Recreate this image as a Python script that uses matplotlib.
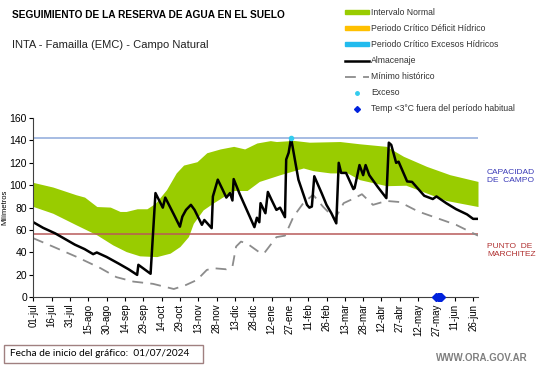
import numpy as np
import matplotlib
matplotlib.use("Agg")
import matplotlib.pyplot as plt
from matplotlib.lines import Line2D
from matplotlib.patches import Patch, Rectangle

plt.rcParams['font.family'] = ['Liberation Sans', 'DejaVu Sans']

# days counted from 01/07/2024
tick_labels = ['01-jul', '16-jul', '31-jul', '15-ago', '30-ago', '14-sep', '29-sep',
               '14-oct', '29-oct', '13-nov', '28-nov', '13-dic', '28-dic', '12-ene',
               '27-ene', '11-feb', '26-feb', '13-mar', '28-mar', '12-abr', '27-abr',
               '12-may', '27-may', '11-jun', '26-jun']

# Almacenaje (stored water, mm)
alm_day = [0, 8, 18, 26, 34, 42, 49, 52, 60, 70, 78, 85, 86, 96, 100, 106, 108, 115,
           120, 122, 125, 129, 132, 138, 140, 146, 147, 151, 155, 158, 161, 163, 164,
           169, 181, 183, 185, 186, 190, 192, 195, 199, 202, 206, 207, 209, 211, 217,
           224, 226, 228, 230, 236, 240, 244, 248, 250, 252, 256, 262, 263, 267, 270,
           272, 275, 282, 289, 291, 293, 297, 299, 306, 310, 320, 327, 330, 338, 346,
           355, 360, 363]
alm_val = [67, 62, 57, 52, 47, 43, 38.5, 40, 36, 30, 25, 20, 29, 21, 93, 80, 89, 74,
           63, 72, 78, 82.5, 78, 64.7, 69, 61.7, 90, 105, 96, 89, 93, 86.4, 105.5,
           92, 62.6, 71, 67, 84, 75, 94, 87, 78, 80, 71.5, 123, 129, 142, 105,
           82.5, 80, 81, 108, 93, 82.5, 75, 66, 120, 111, 111, 96.6, 97.5, 118, 109,
           118, 109, 98.4, 88.5, 138, 136, 120, 121, 103.4, 103, 90.6, 87.7, 90, 84, 78.7,
           74, 70, 70]

# Intervalo normal (upper / lower)
up_day = [0, 16, 35, 42, 52, 63, 71, 76, 85, 93, 100, 109, 117, 123, 134, 142, 153,
          164, 173, 183, 194, 199, 213, 226, 251, 267, 289, 303, 322, 341, 364]
up_val = [102.5, 98.4, 91.5, 89.4, 81, 80.5, 76.6, 76.6, 79, 79, 84, 96, 111, 118,
          121, 129, 132.4, 134.7, 132.4, 137.7, 139.8, 139, 140, 138.4, 139, 137, 134.7,
          125.8, 116.8, 109.4, 103.4]
lo_day = [0, 16, 35, 52, 65, 76, 87, 101, 112, 120, 127, 131, 139, 147, 158, 164,
          175, 185, 202, 207, 221, 229, 243, 257, 267, 289, 305, 322, 338, 364]
lo_val = [81, 75, 64.7, 55.7, 46.8, 40.8, 37, 36.3, 39.4, 45.3, 54.2, 66, 78, 84,
          91.5, 95.3, 95.3, 103.4, 109.4, 111, 115.4, 113, 111, 111, 105, 99.6, 100,
          93, 86.4, 81]

# Minimo historico
min_day = [0, 16, 35, 55, 68, 82, 98, 115, 125, 134, 142, 147, 158, 163, 166, 170,
           175, 186, 189, 199, 206, 213, 221, 229, 237, 247, 254, 262, 269, 278, 289,
           300, 315, 327, 346, 364]
min_val = [52.7, 45.3, 36.3, 26, 18, 14, 12, 7.4, 11, 15.5, 24.4, 26, 25, 27.4,
           45.3, 49.7, 48, 39.4, 39.4, 53.7, 55, 72, 84, 91.5, 81, 70, 84, 88, 92,
           82.5, 86, 85, 76.6, 72, 64.7, 55]

capacidad = 142
marchitez = 56.5
exceso_day = [211]
exceso_val = [142]
helada_day = [330, 331, 332, 333, 334]

fig = plt.figure(figsize=(5.41, 3.68), dpi=100)
ax = fig.add_axes([33.3 / 541, 1 - 297.3 / 368, (478 - 33.3) / 541, (297.3 - 118) / 368])

grid = np.arange(0, 365)
upper = np.interp(grid, up_day, up_val)
lower = np.interp(grid, lo_day, lo_val)
ax.fill_between(grid, lower, upper, color='#99cc00', linewidth=0)

ax.axhline(capacidad, color='#8eaadb', lw=1.1)
ax.axhline(marchitez, color='#b85a5a', lw=1.1)

ax.plot(min_day, min_val, color='#8c8c8c', lw=1.3, dashes=(6, 4))
ax.plot(alm_day, alm_val, color='black', lw=1.8)
ax.plot(exceso_day, exceso_val, 'o', color='#33ccee', ms=3, zorder=5)
ax.plot(helada_day, [0] * len(helada_day), 'D', color='#0022dd', ms=4.5,
        clip_on=False, zorder=6)

ax.set_xlim(0, 364)
ax.set_ylim(0, 160)
ax.set_xticks(np.arange(0, 361, 15))
ax.set_xticklabels(tick_labels, rotation=90, fontsize=7)
ax.set_yticks(np.arange(0, 161, 20))
ax.tick_params(axis='y', labelsize=7.5, length=3, pad=1.5)
ax.tick_params(axis='x', length=3, pad=1.5)
for s in ['top', 'right']:
    ax.spines[s].set_visible(False)
for s in ['left', 'bottom']:
    ax.spines[s].set_color('#404040')
ax.set_ylabel('Milímetros', fontsize=5.5)
ax.yaxis.set_label_coords(-25 / 444.7, 0.5)

fig.text(12 / 541, 1 - 15 / 368, 'SEGUIMIENTO DE LA RESERVA DE AGUA EN EL SUELO',
         fontsize=7.3, fontweight='bold', va='center')
fig.text(12 / 541, 1 - 45 / 368, 'INTA - Famailla (EMC) - Campo Natural',
         fontsize=8, va='center', color='#222222')

fig.text(487 / 541, 1 - 176 / 368, 'CAPACIDAD\nDE  CAMPO', fontsize=6,
         color='#3a3ab8', va='center', linespacing=1.2)
fig.text(487 / 541, 1 - 250 / 368, 'PUNTO  DE\nMARCHITEZ', fontsize=6,
         color='#b03030', va='center', linespacing=1.2)

handles = [
    Patch(color='#99cc00'),
    Patch(color='#ffc000'),
    Patch(color='#22bbee'),
    Line2D([], [], color='black', lw=1.8),
    Line2D([], [], color='#8c8c8c', lw=1.3, dashes=(6, 4)),
    Line2D([], [], marker='o', ls='none', color='#33ccee', ms=2.5),
    Line2D([], [], marker='D', ls='none', color='#0022dd', ms=3),
]
labels = ['Intervalo Normal', 'Periodo Crítico Déficit Hídrico',
          'Periodo Crítico Excesos Hídricos', 'Almacenaje', 'Mínimo histórico',
          'Exceso', 'Temp <3°C fuera del período habitual']
fig.legend(handles, labels, loc='upper left', bbox_to_anchor=(345 / 541, 1 - 8 / 368),
           frameon=False, fontsize=6.2, handlelength=2.8, handleheight=0.4,
           handletextpad=0.2, labelspacing=0.82, borderpad=0, borderaxespad=0,
           labelcolor='#333333')

fig.patches.append(Rectangle((4 / 541, 1 - 363 / 368), 199 / 541, 18 / 368,
                             transform=fig.transFigure, fill=False,
                             edgecolor='#a08080', lw=1))
fig.text(10 / 541, 1 - 354 / 368, 'Fecha de inicio del gráfico:  01/07/2024',
         fontsize=7.3, va='center', family=['Lato', 'DejaVu Sans'])
fig.text(528 / 541, 1 - 358 / 368, 'WWW.ORA.GOV.AR', fontsize=7, color='#7f7f7f',
         ha='right', va='center', fontweight='bold')

fig.savefig('out.png', dpi=100)
